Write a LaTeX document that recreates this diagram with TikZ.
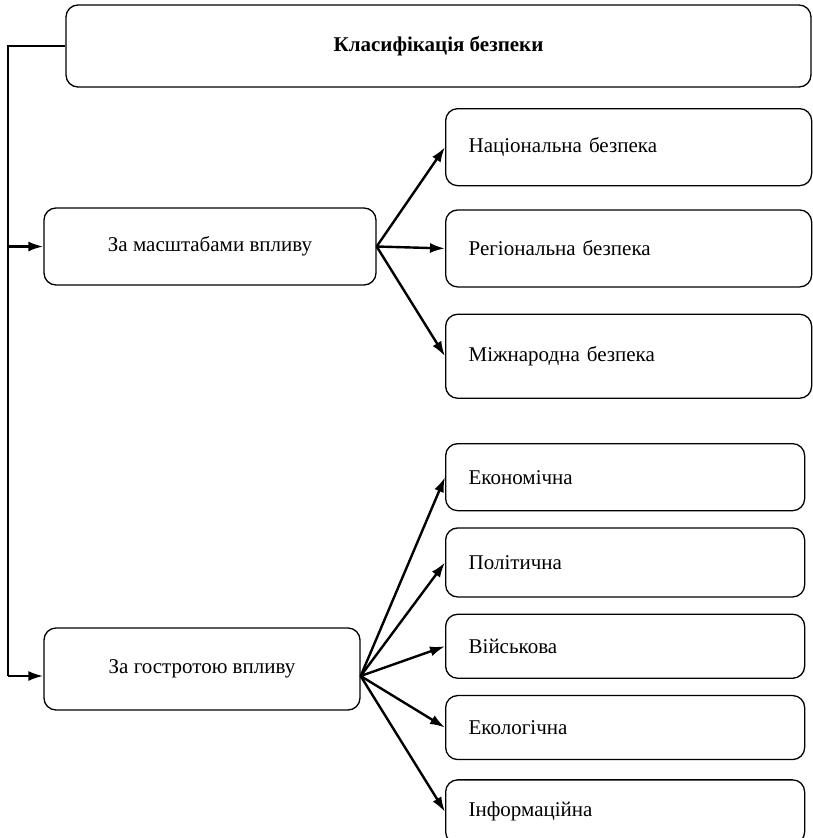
\documentclass[tikz,border=0pt]{standalone}
\usepackage{fontspec}
\setmainfont{Liberation Serif}
\usetikzlibrary{shapes,arrows.meta,positioning}

\begin{document}
\begin{tikzpicture}[
    x=1pt, y=1pt,
    node distance=23pt,
    box/.style={rectangle, rounded corners=12pt, draw, line width=1.3pt, font=\fontsize{21}{25}\selectfont},
    kind/.style={box, text width=320pt, inner xsep=23pt, align=left, minimum height=77pt},
    sort/.style={box, text width=313pt, inner xsep=23pt, align=left, minimum height=64pt},
    arr/.style={-{Latex[length=15pt,width=10pt]}, line width=2.4pt}
]
    \useasboundingbox (0,0) rectangle (812,-838);

    \node (title) [box, minimum width=745pt, minimum height=82pt, font=\fontsize{21}{25}\selectfont\bfseries] at (438.5,-46) {Класифікація безпеки};
    \node (scale) [box, minimum width=332pt, minimum height=77pt] at (210,-246.5) {За масштабами впливу};
    \node (acute) [box, minimum width=316pt, minimum height=82pt] at (202,-669) {За гостротою впливу};

    % за масштабами
    \node (nat) [kind, anchor=north west] at (445,-108) {Національна безпека};
    \node (reg) [kind, below=of nat] {Регіональна безпека};
    \node (intl) [kind, below=26pt of reg, minimum height=84pt] {Міжнародна безпека};

    % за гостротою
    \node (econ) [sort, anchor=north west, minimum height=67pt] at (445,-443) {Економічна};
    \node (pol) [sort, below=16pt of econ, minimum height=69pt] {Політична};
    \node (mil) [sort, below=16pt of pol] {Військова};
    \node (eco) [sort, below=16pt of mil] {Екологічна};
    \node (info) [sort, below=19pt of eco] {Інформаційна};

    \coordinate (trunk) at (8,-46);
    \coordinate (gin) at ([yshift=-7pt]acute.west);
    \coordinate (gout) at ([yshift=-7pt]acute.east);

    \draw [line width=1.3pt] (title.west) -- (trunk) -- (trunk |- gin);
    \draw [arr] (trunk |- scale.west) -- (scale.west);
    \draw [arr] (trunk |- gin) -- (gin);

    \foreach \t in {nat, reg, intl} \draw [arr] (scale.east) -- (\t.west);
    \foreach \t in {econ, pol, mil, eco, info} \draw [arr] (gout) -- (\t.west);
\end{tikzpicture}
\end{document}
